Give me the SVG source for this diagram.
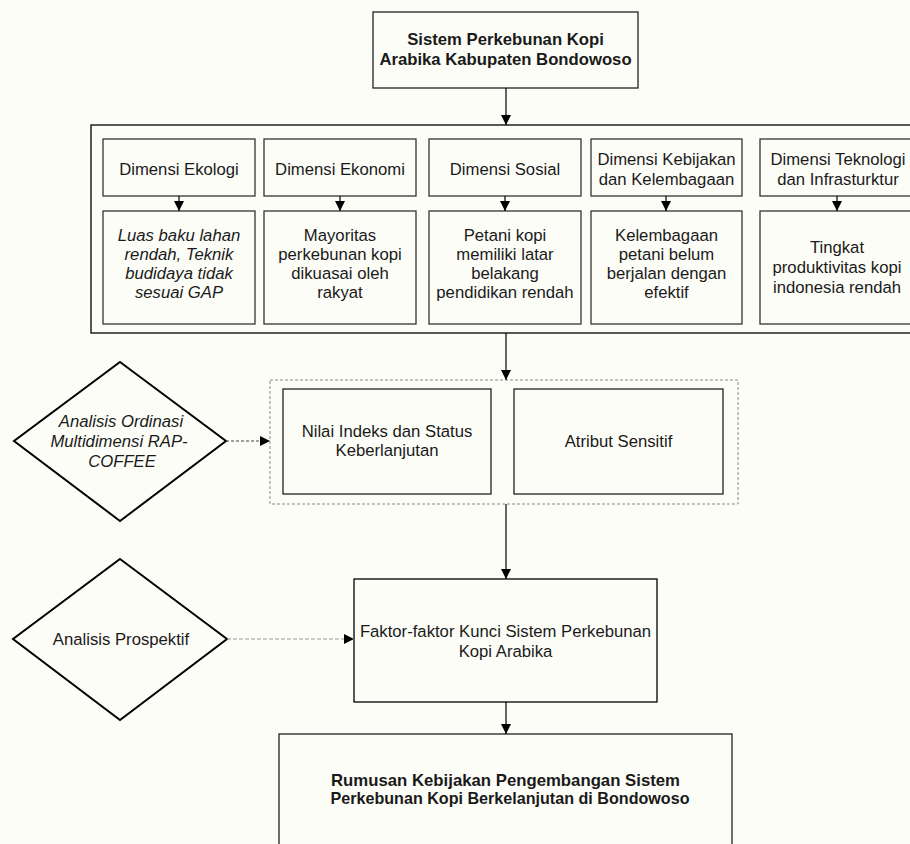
<svg xmlns="http://www.w3.org/2000/svg" width="910" height="844" viewBox="0 0 910 844">
<defs>
<marker id="arr" viewBox="0 0 10 10" refX="10" refY="5" markerWidth="10" markerHeight="10" markerUnits="userSpaceOnUse" orient="auto">
<path d="M0,0 L10,5 L0,10 Z" fill="#000"/>
</marker>
<style>
text{font-family:"Liberation Sans",Arial,sans-serif;font-size:16.7px;fill:#1a1a1a;text-anchor:middle}
.b{font-weight:bold}
.b2{font-weight:bold;font-size:16.2px}
.i{font-style:italic}
.box{fill:none;stroke:#222;stroke-width:1.3}
.dbox{fill:none;stroke:#333;stroke-width:1.3}
.cont{fill:none;stroke:#000;stroke-width:1.3}
.dia{fill:none;stroke:#000;stroke-width:2}
.ln{fill:none;stroke:#000;stroke-width:1.2}
.dash1{fill:none;stroke:#444;stroke-width:1.1;stroke-dasharray:3,2}
.dash2{fill:none;stroke:#999;stroke-width:1;stroke-dasharray:4,2}
.dgrp{fill:none;stroke:#888;stroke-width:1;stroke-dasharray:3,2}
</style>
</defs>
<rect x="0" y="0" width="910" height="844" fill="#fdfdf8"/>

<g id="top">
<rect class="box" x="373" y="12" width="265" height="76"/>
<text class="b" x="505.5" y="45">Sistem Perkebunan Kopi</text>
<text class="b" x="505.5" y="65">Arabika Kabupaten Bondowoso</text>
</g>

<g id="container">
<rect class="cont" x="91" y="125" width="830" height="208"/>
</g>

<g id="dim-ekologi">
<rect class="dbox" x="103" y="139" width="152" height="57"/>
<text x="179" y="174.5">Dimensi Ekologi</text>
</g>
<g id="dim-ekonomi">
<rect class="dbox" x="264" y="139" width="152" height="57"/>
<text x="340" y="174.5">Dimensi Ekonomi</text>
</g>
<g id="dim-sosial">
<rect class="dbox" x="429" y="139" width="152" height="57"/>
<text x="505" y="174.5">Dimensi Sosial</text>
</g>
<g id="dim-kebijakan">
<rect class="dbox" x="591" y="139" width="151" height="57"/>
<text x="666.5" y="165">Dimensi Kebijakan</text>
<text x="666.5" y="185">dan Kelembagaan</text>
</g>
<g id="dim-teknologi">
<rect class="dbox" x="760" y="139" width="160" height="57"/>
<text x="838" y="165">Dimensi Teknologi</text>
<text x="838" y="185">dan Infrasturktur</text>
</g>

<g id="desc-ekologi">
<rect class="dbox" x="103" y="211" width="152" height="113"/>
<text class="i" x="179" y="241">Luas baku lahan</text>
<text class="i" x="179" y="260">rendah, Teknik</text>
<text class="i" x="179" y="279">budidaya tidak</text>
<text class="i" x="179" y="298">sesuai GAP</text>
</g>
<g id="desc-ekonomi">
<rect class="dbox" x="264" y="211" width="152" height="113"/>
<text x="340" y="241">Mayoritas</text>
<text x="340" y="260">perkebunan kopi</text>
<text x="340" y="279">dikuasai oleh</text>
<text x="340" y="298">rakyat</text>
</g>
<g id="desc-sosial">
<rect class="dbox" x="429" y="211" width="152" height="113"/>
<text x="505" y="241">Petani kopi</text>
<text x="505" y="260">memiliki latar</text>
<text x="505" y="279">belakang</text>
<text x="505" y="298">pendidikan rendah</text>
</g>
<g id="desc-kebijakan">
<rect class="dbox" x="591" y="211" width="151" height="113"/>
<text x="666.5" y="241">Kelembagaan</text>
<text x="666.5" y="260">petani belum</text>
<text x="666.5" y="279">berjalan dengan</text>
<text x="666.5" y="298">efektif</text>
</g>
<g id="desc-teknologi">
<rect class="dbox" x="760" y="211" width="160" height="113"/>
<text x="837" y="253">Tingkat</text>
<text x="837" y="273">produktivitas kopi</text>
<text x="837" y="293">indonesia rendah</text>
</g>

<g id="analysis-group">
<rect class="dgrp" x="270" y="380" width="468" height="124"/>
</g>
<g id="nilai">
<rect class="box" x="283" y="389" width="208" height="105"/>
<text x="387" y="437">Nilai Indeks dan Status</text>
<text x="387" y="456">Keberlanjutan</text>
</g>
<g id="atribut">
<rect class="box" x="514" y="389" width="209" height="105"/>
<text x="618.5" y="447">Atribut Sensitif</text>
</g>

<g id="mds">
<polygon class="dia" points="120,362 226,441 120,521 14,441"/>
<text class="i" x="121" y="427">Analisis Ordinasi</text>
<text class="i" x="119" y="447">Multidimensi RAP-</text>
<text class="i" x="122" y="467">COFFEE</text>
</g>

<g id="faktor">
<rect class="cont" x="354" y="579" width="303" height="123"/>
<text x="505.5" y="636.5">Faktor-faktor Kunci Sistem Perkebunan</text>
<text x="505.5" y="656.5">Kopi Arabika</text>
</g>

<g id="prospektif">
<polygon class="dia" points="120,559 227,639 120,720 13,639"/>
<text x="121" y="645">Analisis Prospektif</text>
</g>

<g id="rumusan">
<rect class="box" x="279" y="734" width="453" height="120"/>
<text class="b2" x="505.5" y="786" textLength="349" lengthAdjust="spacingAndGlyphs">Rumusan Kebijakan Pengembangan Sistem</text>
<text class="b2" x="510" y="804" textLength="359" lengthAdjust="spacingAndGlyphs">Perkebunan Kopi Berkelanjutan di Bondowoso</text>
</g>

<g id="connectors">
<line class="ln" x1="506" y1="88" x2="506" y2="125" marker-end="url(#arr)"/>
<line class="ln" x1="179" y1="196" x2="179" y2="211" marker-end="url(#arr)"/>
<line class="ln" x1="340" y1="196" x2="340" y2="211" marker-end="url(#arr)"/>
<line class="ln" x1="505" y1="196" x2="505" y2="211" marker-end="url(#arr)"/>
<line class="ln" x1="666" y1="196" x2="666" y2="211" marker-end="url(#arr)"/>
<line class="ln" x1="837" y1="196" x2="837" y2="211" marker-end="url(#arr)"/>
<line class="ln" x1="506" y1="333" x2="506" y2="380" marker-end="url(#arr)"/>
<line class="dash1" x1="226" y1="441" x2="270" y2="441" marker-end="url(#arr)"/>
<line class="ln" x1="506" y1="504" x2="506" y2="579" marker-end="url(#arr)"/>
<line class="dash2" x1="227" y1="639" x2="354" y2="639" marker-end="url(#arr)"/>
<line class="ln" x1="506" y1="702" x2="506" y2="734" marker-end="url(#arr)"/>
</g>
</svg>
